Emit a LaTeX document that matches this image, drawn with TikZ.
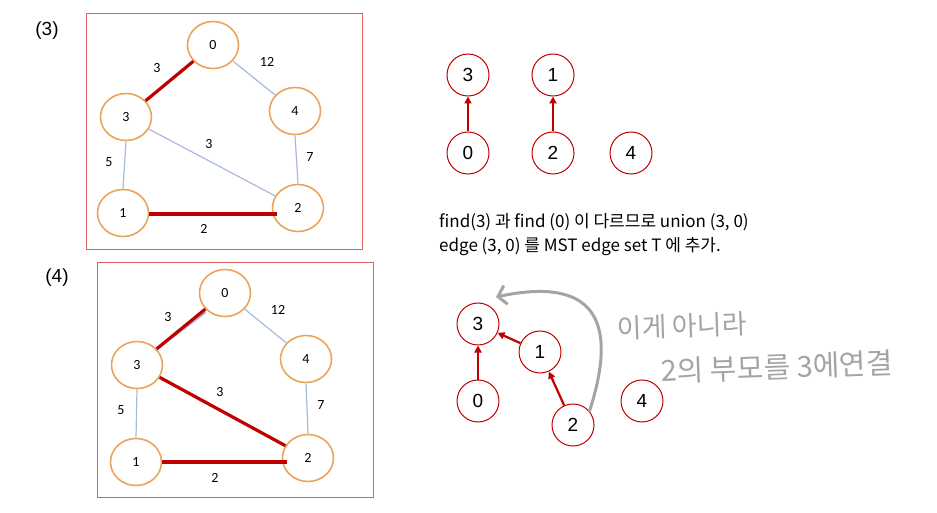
\documentclass[tikz,border=0pt]{standalone}
\usepackage{fontspec}
\setmainfont{Noto Sans CJK KR}
\newfontfamily\grfont{Carlito}
\newfontfamily\hfont{Liberation Sans}
\newfontfamily\hand{Noto Sans CJK KR}
\usetikzlibrary{shapes.geometric,arrows.meta}
\definecolor{orng}{HTML}{EBA45C}
\definecolor{lblue}{HTML}{A9B9DE}
\definecolor{dred}{HTML}{C00000}
\definecolor{boxred}{HTML}{E06060}
\definecolor{handgray}{HTML}{A4A4A4}
\tikzset{
  gnode/.style={ellipse,draw=orng,line width=1.6pt,minimum width=51pt,minimum height=47pt,inner sep=0pt,font=\grfont\fontsize{14}{16}\selectfont},
  thinedge/.style={draw=lblue,line width=1.2pt},
  redge/.style={draw=dred,line width=3.2pt},
  wlab/.style={font=\grfont\fontsize{14}{16}\selectfont,inner sep=0pt},
  panelbox/.style={draw=boxred,line width=1pt},
  ufnode/.style={circle,draw=dred,line width=1pt,minimum size=42pt,inner sep=0pt,font=\hfont\fontsize{19}{21}\selectfont},
  ufarrow/.style={draw=dred,line width=2.2pt,-{Triangle[length=7pt,width=7pt]}},
  steplab/.style={font=\hfont\fontsize{19}{21}\selectfont,inner sep=0pt},
}
\begin{document}
\begin{tikzpicture}[x=1pt,y=-1pt]
\useasboundingbox (0,0) rectangle (937,513);
% ---------- panel (3)
\node[steplab] (lab3) at (47,31) {(3)};
\node[panelbox,minimum width=276pt,minimum height=235pt,inner sep=0pt] (box3) at (224,131.5) {};
\node[gnode] (a0) at (213,45) {0};
\node[gnode] (a3) at (126,117) {3};
\node[gnode] (a4) at (295,111) {4};
\node[gnode] (a1) at (123,213) {1};
\node[gnode] (a2) at (298,208) {2};
\draw[thinedge] (a0) -- (a4);
\draw[thinedge] (a3) -- (a2);
\draw[thinedge] (a3.south) -- (a1.north);
\draw[thinedge] (a4.south) -- (a2.north);
\draw[redge] (a0) -- (a3);
\draw[redge] ([yshift=-1pt]a1.east) -- ([xshift=5pt,yshift=-1pt]a1.east -| a2.west);
\node[wlab] (w30a) at (157,68) {3};
\node[wlab] (w04a) at (267,62) {12};
\node[wlab] (w32a) at (209,144) {3};
\node[wlab] (w31a) at (109,162) {5};
\node[wlab] (w42a) at (310,157) {7};
\node[wlab] (w12a) at (204,229) {2};
% ---------- panel (4)
\node[steplab] (lab4) at (57,278) {(4)};
\node[panelbox,minimum width=276pt,minimum height=235pt,inner sep=0pt] (box4) at (235,379.5) {};
\node[gnode] (b0) at (225,293) {0};
\node[gnode] (b3) at (137,365) {3};
\node[gnode] (b4) at (306,359) {4};
\node[gnode] (b1) at (136,462) {1};
\node[gnode] (b2) at (308,458) {2};
\draw[thinedge] (b0) -- (b4);
\draw[thinedge] (b3.south) -- (b1.north);
\draw[thinedge] (b4.south) -- (b2.north);
\draw[thinedge,line width=2pt] ([xshift=-1.5pt,yshift=-1.5pt]b0.225) -- ([xshift=-1.5pt,yshift=-1.5pt]b3.40);
\draw[redge] (b0) -- (b3);
\draw[redge] (b3) -- (b2);
\draw[redge] (b1.east) -- ([xshift=5pt]b1.east -| b2.west);
\node[wlab] (w30b) at (168,317) {3};
\node[wlab] (w04b) at (278,310) {12};
\node[wlab] (w32b) at (220,392) {3};
\node[wlab] (w31b) at (121,410) {5};
\node[wlab] (w42b) at (321,405) {7};
\node[wlab] (w12b) at (215,478) {2};
% ---------- union-find (3)
\node[ufnode] (c3) at (468,75) {3};
\node[ufnode] (c1) at (553,75) {1};
\node[ufnode] (c0) at (468,153) {0};
\node[ufnode] (c2) at (553,153) {2};
\node[ufnode] (c4) at (631,153) {4};
\draw[ufarrow] (c0) -- (c3);
\draw[ufarrow] (c2) -- (c1);
% ---------- text
\node[anchor=west,inner sep=0pt,font=\fontsize{17}{19}\selectfont] (t1) at (439,222) {find(3) 과 find (0) 이 다르므로 union (3, 0)};
\node[anchor=west,inner sep=0pt,font=\fontsize{17}{19}\selectfont] (t2) at (439,247) {edge (3, 0) 를 MST edge set T 에 추가.};
% ---------- union-find (4)
\node[ufnode] (d3) at (478,324) {3};
\node[ufnode] (d1) at (540,352) {1};
\node[ufnode] (d0) at (478,401) {0};
\node[ufnode] (d2) at (573,425) {2};
\node[ufnode] (d4) at (642,401) {4};
\draw[ufarrow] (d0) -- (d3);
\draw[ufarrow] (d1) -- (d3);
\draw[ufarrow] (d2) -- (d1);
\coordinate (tip) at (496,297);
\draw[draw=handgray,line width=3pt,line cap=round,-{Straight Barb[length=8pt,width=19pt,line width=3pt]}] (d2.40) to[out=72,in=12,looseness=1.7] (tip);
\node[font=\hand\fontsize{27}{30}\selectfont,text=handgray,inner sep=0pt,rotate=2] (h1) at (682,326) {이게 아니라};
\node[font=\hand\fontsize{29}{32}\selectfont,text=handgray,inner sep=0pt,rotate=2] (h2) at (777,367) {2의 부모를 3에연결};
\end{tikzpicture}
\end{document}
